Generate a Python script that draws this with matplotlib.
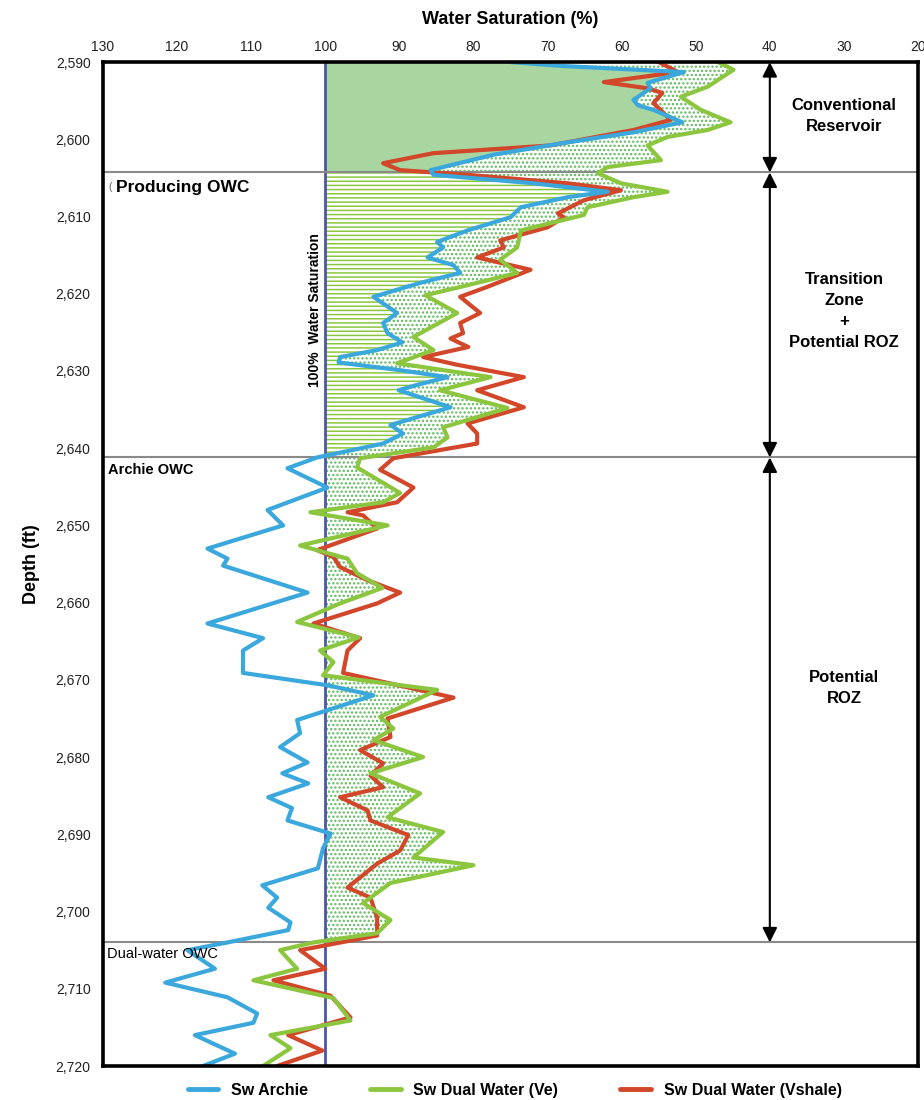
import numpy as np
import matplotlib
matplotlib.use("Agg")
import matplotlib.pyplot as plt
from matplotlib.patches import Rectangle
from matplotlib.lines import Line2D

plt.rcParams['font.family'] = ['Liberation Sans', 'DejaVu Sans']
plt.rcParams['hatch.linewidth'] = 1.1

# ---------------- data ----------------
archie_depth = [2590.0, 2590.5, 2591.3, 2592.7, 2593.4, 2594.9, 2595.6, 2596.2, 2597.8, 2599.1, 2600.4,
                2602.0, 2604.0, 2604.6, 2605.7, 2606.8, 2607.5, 2608.8, 2610.1, 2611.8, 2613.3,
                2614.0, 2615.3, 2616.3, 2617.3, 2618.6, 2620.4, 2622.5, 2623.8, 2625.1, 2626.3,
                2627.3, 2628.2, 2628.9, 2629.9, 2630.8, 2631.8, 2632.5, 2634.7, 2637.0, 2638.1,
                2639.4, 2641.2, 2642.6, 2645.1, 2648.0, 2650.0, 2653.0, 2654.3, 2655.2, 2658.7,
                2662.7, 2664.6, 2666.2, 2669.1, 2670.7, 2672.0, 2675.2, 2676.9, 2678.7, 2680.7,
                2682.1, 2683.4, 2685.2, 2686.6, 2688.2, 2689.9, 2691.8, 2694.4, 2696.6, 2698.2,
                2699.5, 2701.4, 2702.4, 2704.0, 2705.0, 2707.4, 2709.2, 2711.1, 2713.2, 2714.4,
                2716.0, 2718.4, 2720.0]
archie_sw = [75.0, 68.2, 51.6, 56.5, 56.1, 58.4, 57.8, 55.7, 51.8, 58.4, 67.3,
             77.3, 85.8, 85.4, 71.9, 61.9, 67.3, 73.6, 75.0, 80.8, 84.9,
             84.1, 86.2, 82.7, 81.8, 87.2, 93.5, 90.3, 92.2, 91.6, 89.6,
             93.0, 98.0, 98.2, 89.9, 83.5, 87.6, 90.1, 83.1, 91.2, 89.5,
             92.2, 101.1, 105.1, 99.7, 107.8, 105.7, 115.9, 113.2, 113.8, 102.4,
             115.9, 108.4, 111.1, 111.1, 99.7, 93.5, 103.8, 103.4, 106.1, 102.4,
             105.8, 102.3, 107.7, 104.5, 105.1, 99.3, 100.3, 101.0, 108.5, 106.5,
             107.7, 104.7, 105.0, 113.2, 118.6, 114.9, 121.6, 113.2, 109.2, 109.7,
             117.6, 112.2, 116.5]

ve_depth = [2590.0, 2591.0, 2593.2, 2594.5, 2596.2, 2597.8, 2598.8, 2599.7, 2600.8, 2602.7, 2603.6,
            2604.4, 2605.7, 2606.8, 2607.5, 2608.8, 2609.8, 2611.8, 2614.0, 2615.6, 2617.3,
            2618.9, 2620.2, 2622.5, 2625.6, 2627.3, 2629.0, 2630.8, 2632.5, 2634.8, 2637.3,
            2638.6, 2639.9, 2641.3, 2642.5, 2645.8, 2647.0, 2648.3, 2650.0, 2652.6, 2654.3,
            2656.2, 2658.1, 2660.1, 2662.5, 2664.5, 2666.2, 2667.7, 2669.4, 2671.3, 2674.8,
            2676.3, 2677.8, 2680.0, 2682.1, 2684.7, 2687.8, 2689.7, 2693.0, 2694.0, 2696.3,
            2698.9, 2701.1, 2702.8, 2704.0, 2705.0, 2707.4, 2708.9, 2711.2, 2714.1, 2716.0,
            2717.7, 2720.0]
ve_sw = [47.0, 44.9, 48.4, 52.0, 49.3, 45.3, 48.4, 53.8, 56.5, 54.7, 61.9,
         63.2, 60.1, 53.8, 58.4, 64.6, 65.1, 73.6, 74.1, 76.4, 74.1,
         80.8, 86.5, 82.2, 88.1, 85.4, 90.3, 77.7, 84.5, 75.4, 84.1,
         83.5, 85.4, 95.3, 95.7, 89.9, 92.2, 102.0, 91.6, 103.4, 97.0,
         95.7, 92.3, 98.0, 103.8, 95.5, 100.7, 98.9, 100.3, 84.9, 92.6,
         90.8, 93.5, 86.8, 93.9, 87.2, 91.6, 84.1, 88.1, 80.0, 91.2,
         94.9, 91.2, 93.0, 101.6, 106.1, 103.8, 109.7, 98.9, 96.6, 107.4,
         104.7, 108.4]

vsh_depth = [2590.0, 2591.3, 2592.6, 2593.4, 2594.0, 2595.3, 2597.5, 2598.8, 2600.8, 2601.8, 2603.1,
             2604.0, 2604.6, 2605.7, 2606.6, 2607.9, 2609.6, 2610.1, 2611.4, 2613.1, 2614.0,
             2615.3, 2616.9, 2619.1, 2620.4, 2622.5, 2623.8, 2625.1, 2625.8, 2626.9, 2628.2,
             2629.2, 2630.8, 2632.5, 2634.7, 2636.8, 2638.1, 2639.4, 2641.3, 2642.8, 2645.1,
             2647.0, 2648.3, 2648.7, 2650.4, 2653.2, 2654.1, 2655.4, 2657.1, 2658.7, 2660.1,
             2662.7, 2664.6, 2666.2, 2669.1, 2672.3, 2675.0, 2677.4, 2679.1, 2680.8, 2682.4,
             2683.9, 2685.2, 2686.9, 2688.2, 2690.1, 2692.1, 2693.8, 2696.9, 2698.2, 2700.8,
             2703.1, 2705.0, 2707.4, 2708.9, 2710.9, 2713.7, 2716.0, 2718.0, 2720.0]
vsh_sw = [55.0, 52.4, 62.4, 56.5, 54.5, 55.7, 53.4, 58.4, 69.6, 85.4, 92.2,
          89.9, 80.8, 67.3, 60.1, 65.1, 68.6, 67.8, 70.0, 76.4, 75.9,
          79.5, 72.3, 78.1, 81.8, 79.1, 81.8, 81.4, 83.1, 80.7, 86.8,
          82.2, 73.2, 79.5, 73.2, 80.8, 79.5, 79.5, 90.8, 92.6, 88.1,
          90.3, 97.0, 94.9, 93.0, 101.1, 98.9, 98.0, 94.3, 89.9, 93.0,
          101.6, 95.3, 97.0, 97.6, 82.7, 91.6, 91.2, 95.3, 92.2, 93.9,
          92.2, 98.0, 94.3, 93.9, 88.8, 89.9, 93.0, 97.0, 93.9, 93.0,
          93.0, 103.4, 100.0, 107.0, 99.3, 96.6, 105.0, 100.4, 106.5]

owc_depths = [2604.3, 2641.2, 2704.0]
owc_labels = ["Producing OWC", "Archie OWC", "Dual-water OWC"]
zone_bounds = [2590.0, 2604.3, 2641.2, 2704.0]
zone_labels = ["Conventional\nReservoir", "Transition\nZone\n+\nPotential ROZ", "Potential\nROZ"]
x_ticks = [130, 120, 110, 100, 90, 80, 70, 60, 50, 40, 30, 20]
y_ticks = [2590, 2600, 2610, 2620, 2630, 2640, 2650, 2660, 2670, 2680, 2690, 2700, 2710, 2720]

BLUE = '#3aa8dc'
GREEN = '#8cc63f'
RED = '#d2462a'
FILL = '#a9d5a0'
DOT = '#5cb85a'

fig = plt.figure(figsize=(9.24, 11.0), dpi=100)
ax = fig.add_axes([0.1115, 0.0309, 0.882, 0.9127])
ax.set_xlim(130, 20)
ax.set_ylim(2720, 2590)

ad = np.array(archie_depth); av = np.array(archie_sw)
vd = np.array(ve_depth); vv = np.array(ve_sw)
rd = np.array(vsh_depth); rv = np.array(vsh_sw)

# region between 100% line and Archie (conventional reservoir: solid)
f1 = ax.fill_betweenx(ad, 100, av, where=av <= 100, interpolate=True,
                      facecolor=FILL, edgecolor='none', linewidth=0, zorder=1)
f1.set_clip_path(Rectangle((20, 2590), 80, zone_bounds[1] - 2590, transform=ax.transData))

# transition zone: horizontal hatch
f2 = ax.fill_betweenx(ad, 100, av, where=av <= 100, interpolate=True,
                      facecolor='white', edgecolor=GREEN, hatch='----', linewidth=0, zorder=1)
f2.set_clip_path(Rectangle((20, zone_bounds[1]), 80, zone_bounds[2] - zone_bounds[1],
                           transform=ax.transData))

# dotted region between min(Archie,100) and dual water (Ve)
top_mask = ad <= zone_bounds[2]
left_x = list(np.minimum(av[top_mask], 100)) + [100, 100]
left_y = list(ad[top_mask]) + [zone_bounds[2], zone_bounds[3]]
gm = vd <= zone_bounds[3]
poly_x = left_x + list(vv[gm][::-1])
poly_y = left_y + list(vd[gm][::-1])
dots = ax.fill(poly_x, poly_y, facecolor='white', edgecolor=DOT, hatch='....',
               linewidth=0, zorder=1.5)[0]
dots.set_clip_path(Rectangle((20, 2590), 80, zone_bounds[3] - 2590, transform=ax.transData))

# 100% line
ax.axvline(100, color='#4a56a6', lw=2.0, zorder=2)

# OWC lines
for d in owc_depths:
    ax.axhline(d, color='#8a8a8a', lw=1.5, zorder=2)

# curves
ax.plot(rv, rd, color=RED, lw=3.0, solid_joinstyle='round', solid_capstyle='round', zorder=4)
ax.plot(vv, vd, color=GREEN, lw=3.0, solid_joinstyle='round', solid_capstyle='round', zorder=4)
ax.plot(av, ad, color=BLUE, lw=3.0, solid_joinstyle='round', solid_capstyle='round', zorder=5)

# zone arrows
for d0, d1 in zip(zone_bounds[:-1], zone_bounds[1:]):
    ax.annotate('', xy=(40, d1), xytext=(40, d0),
                arrowprops=dict(arrowstyle='<|-|>', color='black', lw=1.5,
                                mutation_scale=22, shrinkA=0, shrinkB=0), zorder=6)

zone_text_y = [2597.0, 2622.2, 2671.1]
for lab, y in zip(zone_labels, zone_text_y):
    ax.text(30, y, lab, ha='center', va='center', fontsize=12, fontweight='bold',
            linespacing=1.5, zorder=6)

# OWC labels
ax.text(128.2, 2606.2, "Producing OWC", ha='left', va='center', fontsize=12.5,
        fontweight='bold', zorder=6)
ax.text(129.3, 2606.2, "(", ha='left', va='center', fontsize=7, color='#555555', zorder=6)
ax.text(129.3, 2642.8, "Archie OWC", ha='left', va='center', fontsize=10.5,
        fontweight='bold', zorder=6)
ax.text(129.5, 2705.5, "Dual-water OWC", ha='left', va='center', fontsize=10.5, zorder=6)

ax.text(101.4, 2622.1, "100%  Water Saturation", rotation=90, ha='center', va='center',
        fontsize=10, fontweight='bold', zorder=6)

# axes styling
ax.xaxis.tick_top()
ax.xaxis.set_label_position('top')
ax.set_xticks(x_ticks)
ax.set_xticklabels([str(t) for t in x_ticks])
ax.set_yticks(y_ticks)
ax.set_yticklabels([f"{t:,}" for t in y_ticks])
ax.tick_params(axis='both', length=0, labelsize=10, colors='#222222')
ax.tick_params(axis='x', pad=6)
ax.tick_params(axis='y', pad=9)
ax.set_xlabel("Water Saturation (%)", fontsize=13, fontweight='bold', labelpad=11)
ax.set_ylabel("Depth (ft)", fontsize=13, fontweight='bold', labelpad=11)
for s in ax.spines.values():
    s.set_linewidth(2.6)
    s.set_color('black')
    s.set_zorder(7)

handles = [Line2D([0], [0], color=BLUE, lw=3.5, solid_capstyle='round'),
           Line2D([0], [0], color=GREEN, lw=3.5, solid_capstyle='round'),
           Line2D([0], [0], color=RED, lw=3.5, solid_capstyle='round')]
fig.legend(handles, ["Sw Archie", "Sw Dual Water (Ve)", "Sw Dual Water (Vshale)"],
           loc='center', bbox_to_anchor=(0.557, 0.009), ncol=3, frameon=False,
           handlelength=1.9, columnspacing=3.9, handletextpad=0.8,
           prop=dict(weight='bold', size=11.5))

fig.savefig("out.png", dpi=100)
